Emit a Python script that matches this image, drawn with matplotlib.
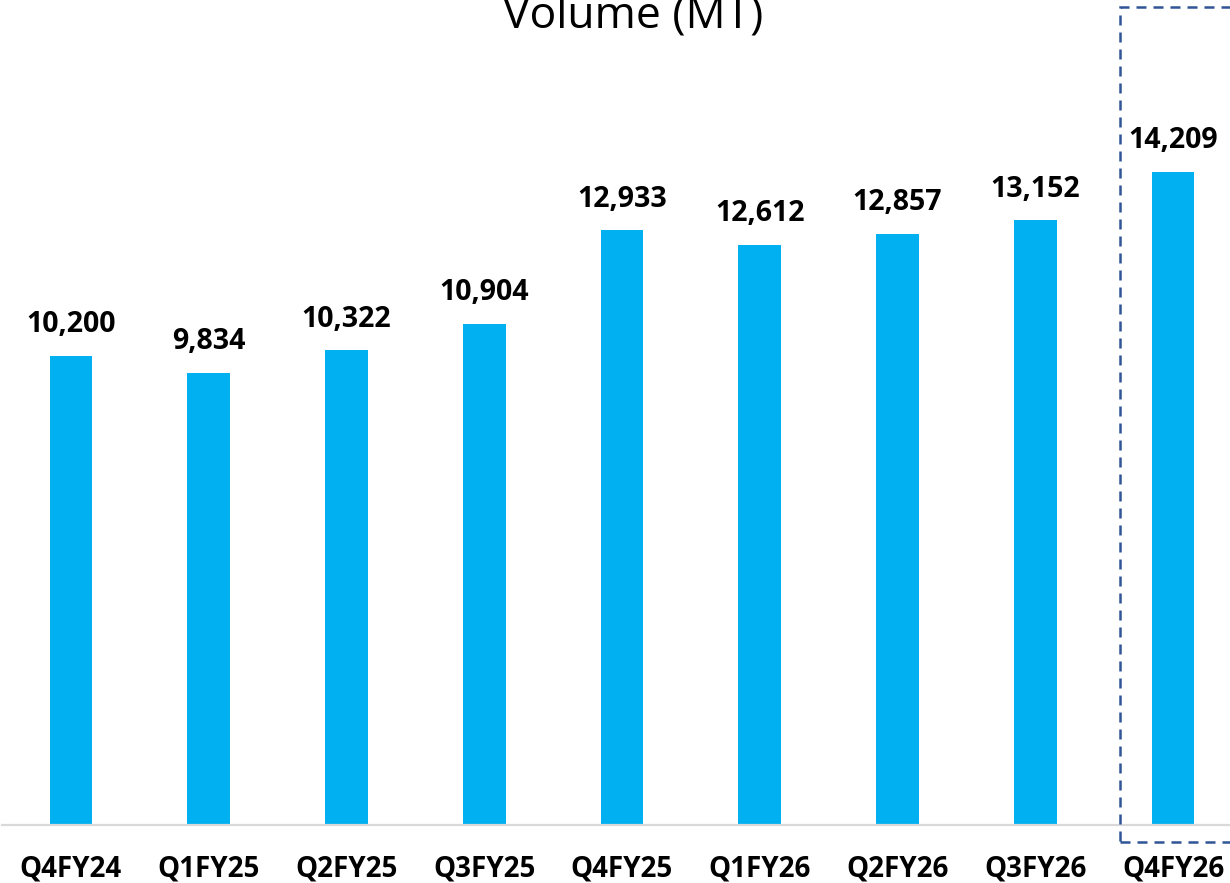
import matplotlib.pyplot as plt
from matplotlib.patches import Rectangle

plt.rcParams['font.family'] = ['Open Sans', 'DejaVu Sans']

# data
quarters = ['Q4FY24', 'Q1FY25', 'Q2FY25', 'Q3FY25', 'Q4FY25',
            'Q1FY26', 'Q2FY26', 'Q3FY26', 'Q4FY26']
volume = [10200, 9834, 10322, 10904, 12933, 12612, 12857, 13152, 14209]

bar_color = '#00B0F0'
box_color = '#2F5597'

fig = plt.figure(figsize=(12.3, 8.83), dpi=100)
# axes run a little past the right edge, like the cropped original
ax = fig.add_axes([2 / 1230, 58 / 883, 1240 / 1230, 827.6 / 883])

x = range(len(quarters))
ax.bar(x, volume, width=0.31, color=bar_color, zorder=2)

for i, v in enumerate(volume):
    ax.annotate(f'{v:,}', (i, v), xytext=(0, 12), textcoords='offset points',
                ha='center', va='bottom', fontsize=20.5, fontweight='bold')

ax.set_xlim(-0.5, len(quarters) - 0.5)
ax.set_ylim(0, 18000)
ax.set_xticks(list(x))
ax.set_xticklabels(quarters, fontsize=20, fontweight='bold')
ax.tick_params(axis='x', length=0, pad=21)
ax.set_yticks([])
for side in ['left', 'right', 'top']:
    ax.spines[side].set_visible(False)
ax.spines['bottom'].set_color('#D9D9D9')
ax.spines['bottom'].set_linewidth(1.6)

# dashed highlight around the latest quarter
last = len(quarters) - 1
box = Rectangle((last - 0.385, -370), 1.0, 18160, fill=False,
                edgecolor=box_color, linewidth=1.8, linestyle=(0, (4, 2.8)),
                clip_on=False, zorder=3)
ax.add_patch(box)

fig.text(0.5148, 1 - 28 / 883, 'Volume (MT)', ha='center', va='baseline',
         fontsize=32)

fig.savefig('out.png', dpi=100)
